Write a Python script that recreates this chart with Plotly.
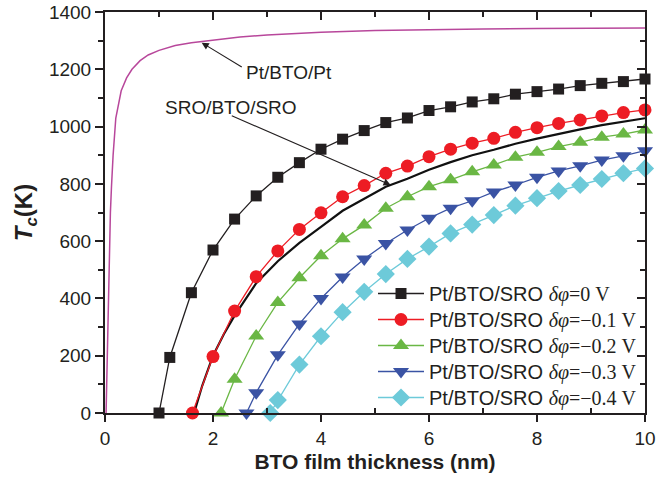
import plotly.graph_objects as go

# ---------------- data ----------------
x_pt = [0.02, 0.05, 0.08, 0.1, 0.12, 0.15, 0.2, 0.25, 0.3, 0.4, 0.5, 0.65, 0.8, 1.0,
        1.3, 1.6, 2.0, 2.5, 3.0, 4.0, 5.0, 6.0, 7.0, 8.0, 9.0, 10.0]
y_pt = [0, 300, 560, 700, 790, 900, 1030, 1085, 1125, 1170, 1200, 1230, 1250, 1266,
        1283, 1293, 1303, 1313, 1320, 1329, 1335, 1339, 1341, 1342, 1343, 1344]

x_sro = [1.65, 1.8, 2.0, 2.2, 2.4, 2.8, 3.2, 3.6, 4.0, 4.4, 4.8, 5.2, 5.6, 6.0, 6.4, 6.8,
         7.2, 7.6, 8.0, 8.4, 8.8, 9.2, 9.6, 10.0]
y_sro = [0, 95, 200, 275, 340, 453, 530, 594, 650, 706, 748, 790, 818, 849, 876, 900,
         919, 940, 958, 975, 990, 1005, 1018, 1029]

x_d0 = [1.0, 1.2, 1.6, 2.0, 2.4, 2.8, 3.2, 3.6, 4.0, 4.4, 4.8, 5.2, 5.6, 6.0, 6.4, 6.8,
        7.2, 7.6, 8.0, 8.4, 8.8, 9.2, 9.6, 10.0]
y_d0 = [0, 194, 420, 569, 677, 758, 823, 874, 921, 956, 986, 1014, 1030, 1056, 1069, 1086,
        1097, 1113, 1122, 1131, 1143, 1151, 1157, 1166]

x_d1 = [1.62, 2.0, 2.4, 2.8, 3.2, 3.6, 4.0, 4.4, 4.8, 5.2, 5.6, 6.0, 6.4, 6.8, 7.2, 7.6,
        8.0, 8.4, 8.8, 9.2, 9.6, 10.0]
y_d1 = [0, 197, 356, 476, 566, 641, 699, 755, 794, 837, 862, 895, 921, 942, 959, 980,
        996, 1011, 1023, 1037, 1049, 1058]

x_d2 = [2.15, 2.4, 2.8, 3.2, 3.6, 4.0, 4.4, 4.8, 5.2, 5.6, 6.0, 6.4, 6.8, 7.2, 7.6, 8.0,
        8.4, 8.8, 9.2, 9.6, 10.0]
y_d2 = [0, 118, 269, 386, 472, 549, 608, 656, 715, 755, 790, 814, 842, 866, 893, 910,
        930, 945, 963, 974, 988]

x_d3 = [2.62, 2.8, 3.2, 3.6, 4.0, 4.4, 4.8, 5.2, 5.6, 6.0, 6.4, 6.8, 7.2, 7.6, 8.0, 8.4,
        8.8, 9.2, 9.6, 10.0]
y_d3 = [0, 71, 203, 311, 400, 475, 538, 592, 639, 680, 715, 741, 772, 796, 823, 845,
        863, 883, 898, 916]

x_d4 = [3.06, 3.2, 3.6, 4.0, 4.4, 4.8, 5.2, 5.6, 6.0, 6.4, 6.8, 7.2, 7.6, 8.0, 8.4, 8.8,
        9.2, 9.6, 10.0]
y_d4 = [0, 45, 169, 268, 352, 423, 485, 538, 581, 627, 658, 691, 724, 750, 775, 796,
        817, 837, 854]

dphi_labels = ["0", "\u22120.1", "\u22120.2", "\u22120.3", "\u22120.4"]

# ---------------- styling ----------------
SANS = "Liberation Sans, Arial, sans-serif"
SERIF = "Liberation Serif, Times New Roman, serif"

series = [
    (x_d0, y_d0, "#231f20", "square", 11),
    (x_d1, y_d1, "#ed1c24", "circle", 13),
    (x_d2, y_d2, "#6ab744", "triangle-up", 14),
    (x_d3, y_d3, "#3a53a4", "triangle-down", 14),
    (x_d4, y_d4, "#6dcad9", "diamond", 14),
]
legend_ids = ["legend", "legend2", "legend3", "legend4", "legend5"]
legend_rows_px = [293.5, 319.5, 345.5, 371.5, 397.5]   # row centres (page px)

fig = go.Figure()

fig.add_trace(go.Scatter(x=x_pt, y=y_pt, mode="lines", showlegend=False,
                         line=dict(color="#b8479b", width=1.5), cliponaxis=False))
fig.add_trace(go.Scatter(x=x_sro, y=y_sro, mode="lines", showlegend=False,
                         line=dict(color="#111111", width=2.2),
                         cliponaxis=False))

for (xs, ys, col, sym, sz), lab, lid in zip(series, dphi_labels, legend_ids):
    name = ("Pt/BTO/SRO <span style='font-family:" + SERIF + "'><i>\u03b4\u03c6</i>="
            + lab + " V</span>")
    fig.add_trace(go.Scatter(x=xs, y=ys, mode="lines+markers", name=name, legend=lid,
                             line=dict(color=col, width=1.3),
                             marker=dict(symbol=sym, size=sz, color=col),
                             cliponaxis=False))

# secondary axes for inward ticks on top / right
fig.add_trace(go.Scatter(x=[0], y=[0], xaxis="x2", yaxis="y2", mode="markers",
                         marker=dict(opacity=0), showlegend=False, hoverinfo="skip"))

annotations = [
    dict(x=1.79, y=1293, ax=2.56, ay=1205, xref="x", yref="y", axref="x", ayref="y",
         text="", showarrow=True, arrowhead=2, arrowsize=1.3, arrowwidth=1.1,
         arrowcolor="#231f20"),
    dict(x=5.29, y=796, ax=2.32, ay=1040, xref="x", yref="y", axref="x", ayref="y",
         text="", showarrow=True, arrowhead=2, arrowsize=1.3, arrowwidth=1.1,
         arrowcolor="#231f20"),
    dict(x=3.40, y=1190, xref="x", yref="y", text="Pt/BTO/Pt", showarrow=False,
         font=dict(family=SANS, size=19, color="#231f20")),
    dict(x=2.34, y=1066, xref="x", yref="y", text="SRO/BTO/SRO", showarrow=False,
         font=dict(family=SANS, size=19, color="#231f20")),
]

axis_common = dict(showline=True, linecolor="#231f20", linewidth=2, showgrid=False,
                   zeroline=False, tickcolor="#231f20", tickwidth=1.5, automargin=False)

PLOT_TOP, PLOT_BOTTOM = 12, 413
legends = {}
for lid, ypx in zip(legend_ids, legend_rows_px):
    legends[lid] = dict(x=(373 - 105) / 540, y=(PLOT_BOTTOM - ypx) / (PLOT_BOTTOM - PLOT_TOP),
                        xanchor="left", yanchor="middle",
                        bgcolor="rgba(0,0,0,0)", borderwidth=0,
                        font=dict(family=SANS, size=20, color="#231f20"),
                        itemwidth=46)

fig.update_layout(
    width=660, height=483,
    margin=dict(l=105, r=15, t=PLOT_TOP, b=483 - PLOT_BOTTOM),
    paper_bgcolor="white", plot_bgcolor="white",
    font=dict(family=SANS, size=18, color="#231f20"),
    xaxis=dict(range=[0, 10], tickvals=[0, 2, 4, 6, 8, 10], ticks="outside", ticklen=7,
               minor=dict(tickvals=[1, 3, 5, 7, 9], ticks="inside", ticklen=5,
                          tickcolor="#231f20", tickwidth=1.5),
               title=dict(text="<b>BTO film thickness (nm)</b>", standoff=7,
                          font=dict(size=21, family=SANS)),
               tickfont=dict(size=19), **axis_common),
    yaxis=dict(range=[0, 1400], tickvals=list(range(0, 1401, 200)), ticks="outside",
               ticklen=8,
               minor=dict(tickvals=list(range(100, 1400, 200)), ticks="outside", ticklen=5,
                          tickcolor="#231f20", tickwidth=1.5),
               title=dict(text="<b><i>T</i><sub><i>c</i></sub>(K)</b>", standoff=10,
                          font=dict(size=24, family=SANS)),
               tickfont=dict(size=19), **axis_common),
    xaxis2=dict(range=[0, 10], overlaying="x", side="top", tickvals=[0, 2, 4, 6, 8, 10],
                ticks="inside", ticklen=8, showticklabels=False,
                minor=dict(tickvals=[1, 3, 5, 7, 9], ticks="inside", ticklen=5,
                           tickcolor="#231f20", tickwidth=1.5),
                **axis_common),
    yaxis2=dict(range=[0, 1400], overlaying="y", side="right",
                tickvals=list(range(0, 1401, 200)), ticks="inside", ticklen=8,
                showticklabels=False,
                minor=dict(tickvals=list(range(100, 1400, 200)), ticks="inside", ticklen=5,
                           tickcolor="#231f20", tickwidth=1.5),
                **axis_common),
    annotations=annotations,
    showlegend=True,
    **legends,
)

fig.write_html("out.html")
